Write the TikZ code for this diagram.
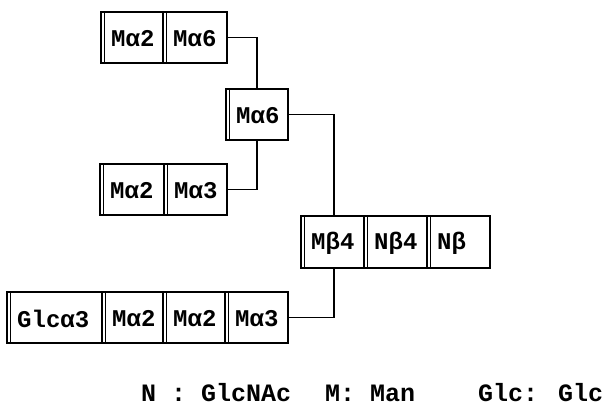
\documentclass[tikz,border=0pt]{standalone}
\usepackage{fontspec}
\setmainfont{Liberation Mono}
\begin{document}
\begin{tikzpicture}[x=1pt,y=-1pt,
  frame/.style={draw=black,line width=1.3pt},
  lab/.style={anchor=west,inner sep=0pt,font=\fontsize{24}{24}\selectfont\bfseries},
  legend/.style={anchor=base west,inner sep=0pt,text depth=0pt,font=\fontsize{25}{25}\selectfont\bfseries},
  link/.style={draw=black,line width=1.3pt}]
\useasboundingbox (0,0) rectangle (605,405);
% box macro: name, left, right, top, bottom, text
\newcommand\gbox[6]{%
  \node[frame,inner sep=0pt,minimum width={#3pt-#2pt},minimum height={#5pt-#4pt}] (#1) at ({(#2+#3)/2},{(#4+#5)/2}) {};
  \draw[frame] ([xshift=4pt]#1.north west) -- ([xshift=4pt]#1.south west);
  \node[lab] (#1t) at ({#2+10},{(#4+#5)/2+1}) {#6};}
\gbox{aa}{101}{163}{12}{63}{Mα2}
\gbox{ab}{163}{227}{12}{63}{Mα6}
\gbox{b}{226}{288}{89}{140}{Mα6}
\gbox{ca}{100}{164}{164}{215}{Mα2}
\gbox{cb}{164}{227}{164}{215}{Mα3}
\gbox{da}{301}{364}{216}{268}{Mβ4}
\gbox{db}{364}{427}{216}{268}{Nβ4}
\gbox{dc}{427}{490}{216}{268}{Nβ}
\gbox{ea}{7}{102}{292}{343}{Glcα3}
\gbox{eb}{102}{163}{292}{343}{Mα2}
\gbox{ec}{163}{225}{292}{343}{Mα2}
\gbox{ed}{225}{288}{292}{343}{Mα3}
% connectors
\draw[link] (ab.east) -- (257,37.5) -- (257,89);
\draw[link] (cb.east) -- (257,189.5) -- (257,140);
\draw[link] (b.east) -- (334,114.5) -- (334,216);
\draw[link] (ed.east) -- (334,317.5) -- (334,268);
% legend
\node[legend] (l1) at (141,401) {N : GlcNAc};
\node[legend] (l2) at (325,401) {M: Man};
\node[legend] (l3) at (478,401) {Glc: Glc};
\end{tikzpicture}
\end{document}
